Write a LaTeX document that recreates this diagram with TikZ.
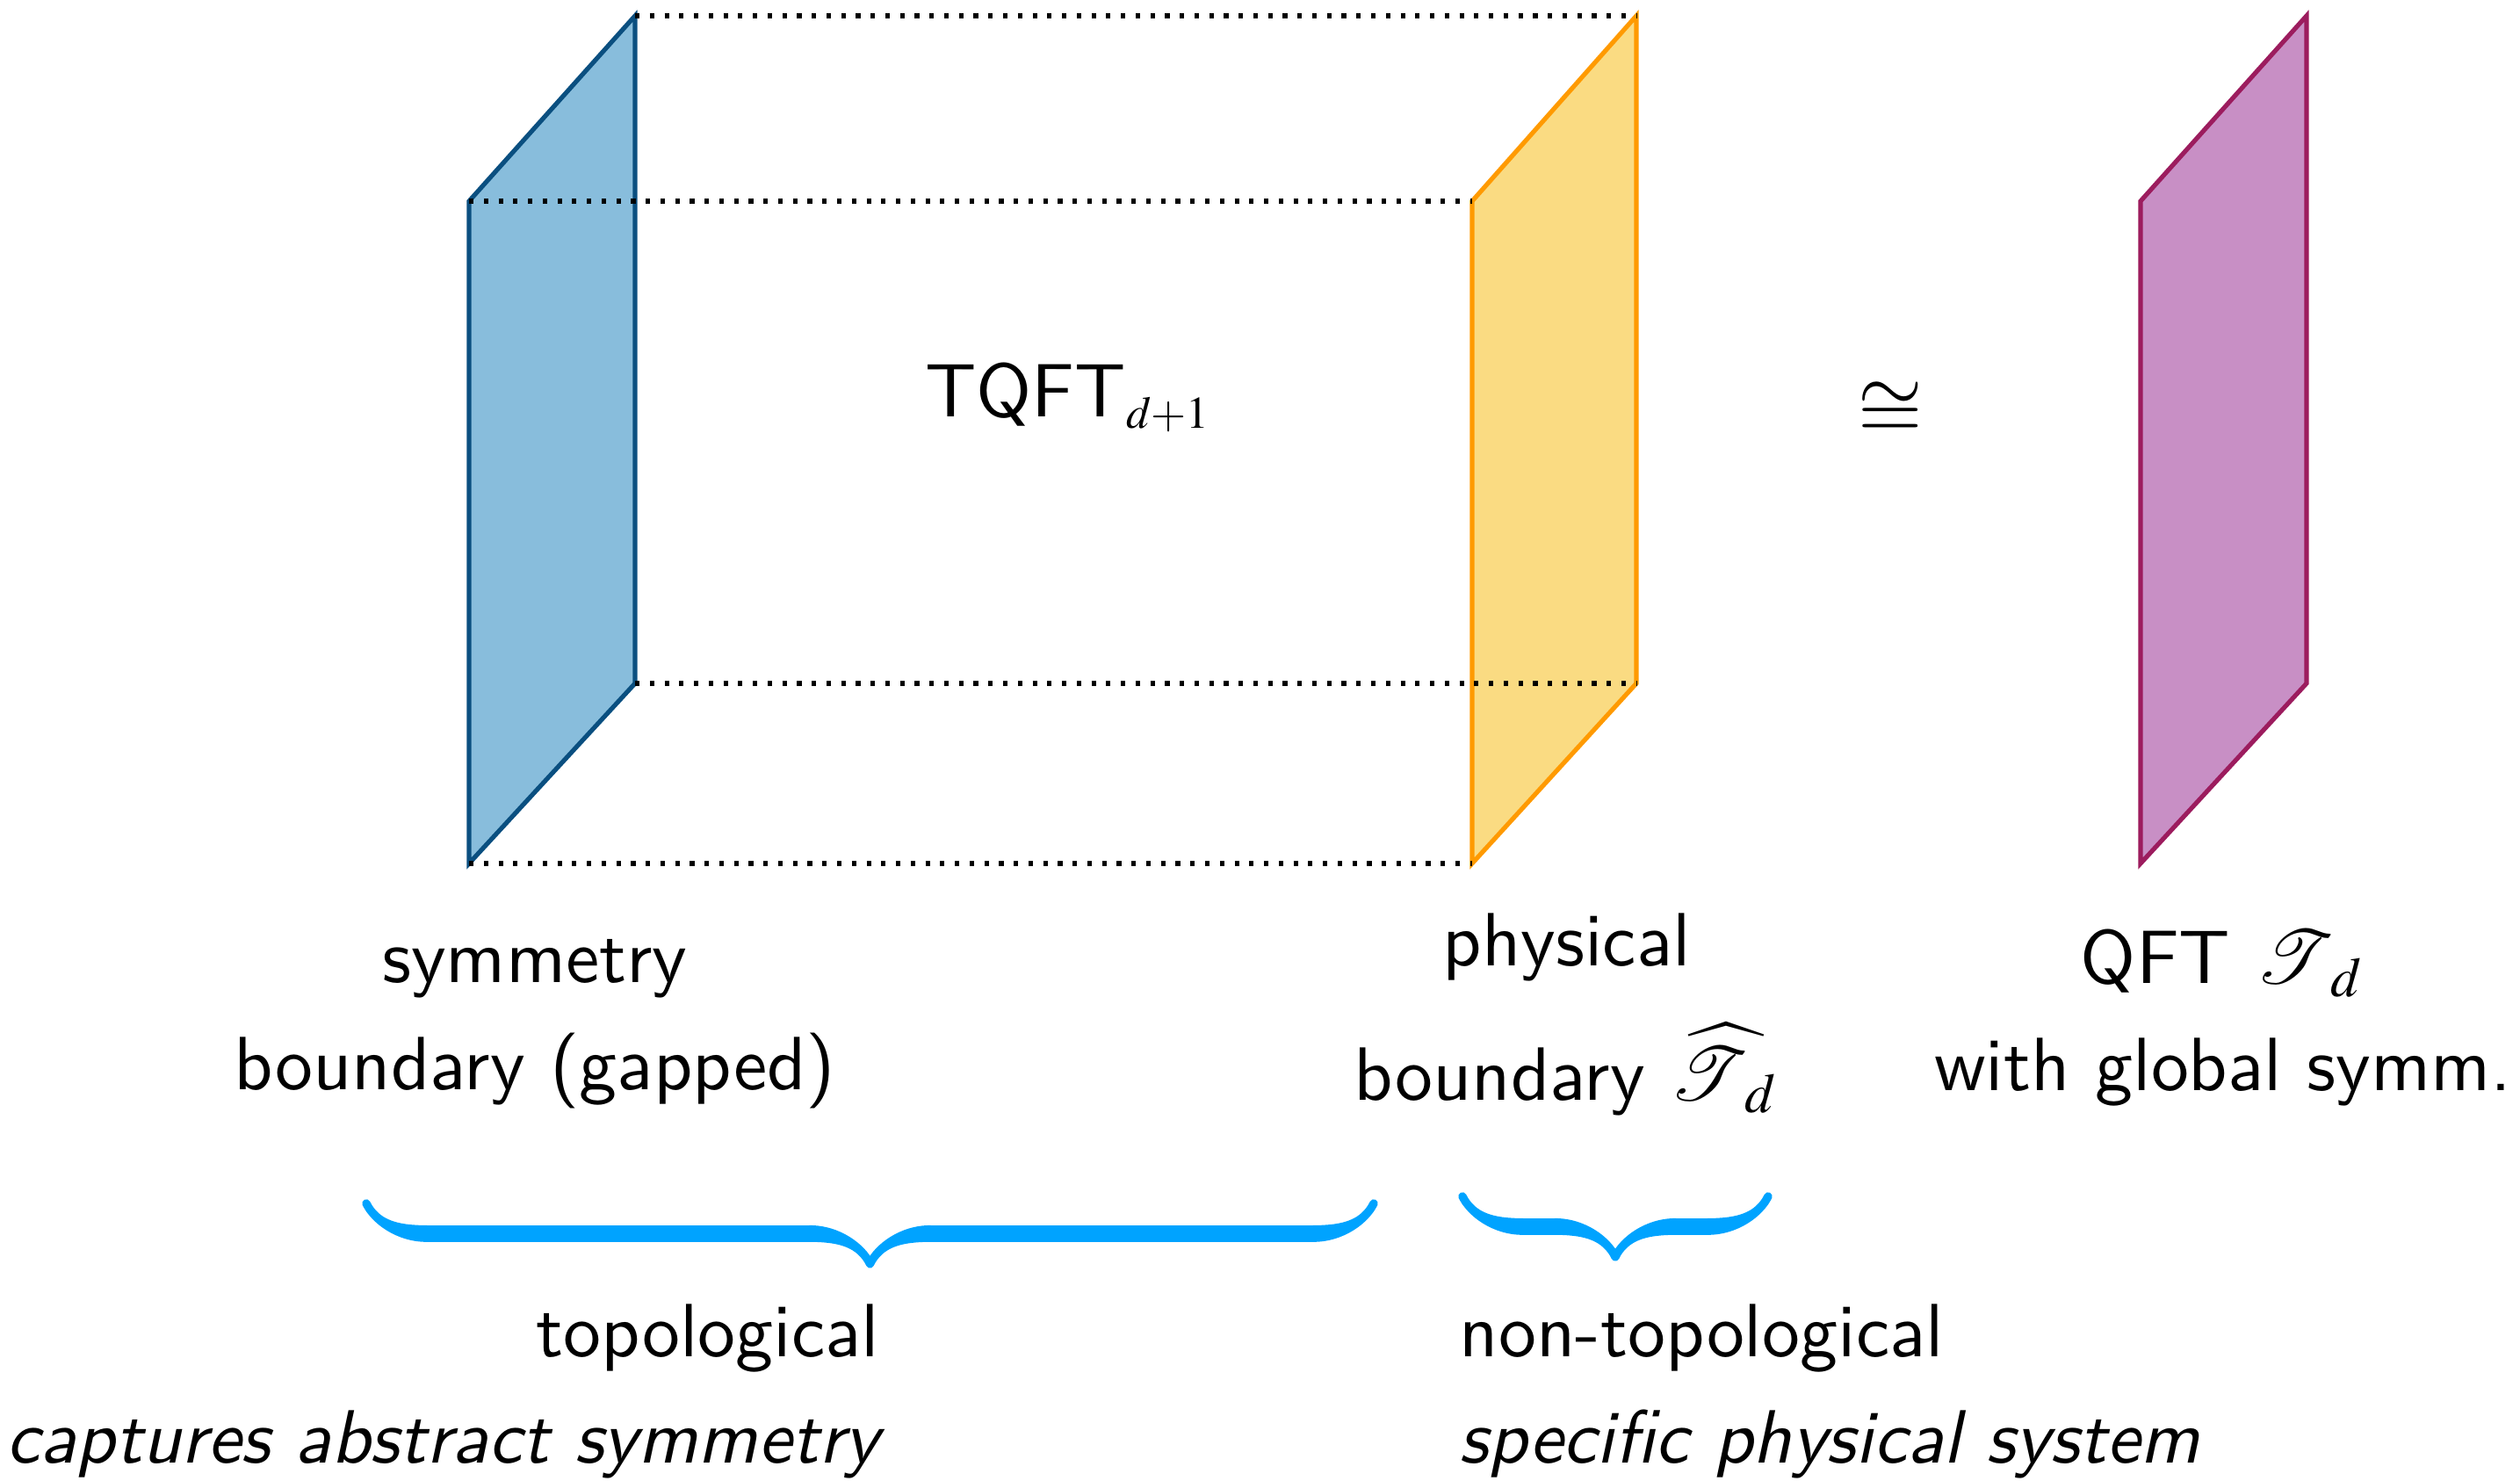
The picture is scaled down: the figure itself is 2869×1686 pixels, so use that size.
\documentclass[tikz,border=0pt]{standalone}
\usepackage{amsmath,amssymb}
\usepackage{mathptmx}
\usepackage{mathrsfs}
\usepackage{tikz}
\usetikzlibrary{decorations.pathreplacing,calligraphy}
\renewcommand{\familydefault}{\sfdefault}
\definecolor{symblue}{HTML}{88BDDC}
\definecolor{symbluedark}{HTML}{0A4F80}
\definecolor{physyellow}{HTML}{FADB82}
\definecolor{physorange}{HTML}{FF9A00}
\definecolor{qftpink}{HTML}{C88FC5}
\definecolor{qftplum}{HTML}{9C1C5E}
\definecolor{bracecyan}{HTML}{00A3FF}
\tikzset{
  bnd/.style={line width=0.6pt,line join=miter},
  symbnd/.style={bnd,draw=symbluedark,fill=symblue},
  physbnd/.style={bnd,draw=physorange,fill=physyellow},
  qftbnd/.style={bnd,draw=qftplum,fill=qftpink},
  rim/.style={line width=0.6pt,dash pattern=on 0.6pt off 1.35pt},
  lbl/.style={align=center,inner sep=0pt},
  brc/.style={decorate,decoration={calligraphic brace,amplitude=8pt},
              line width=2.2pt,pen colour={bracecyan}},
}

\begin{document}
\begin{tikzpicture}[x=0.00409cm,y=-0.00409cm]
\useasboundingbox (0,0) rectangle (2869,1686);
% slab corners: front bottom, front top, back top, back bottom
\coordinate (sfb) at (534,983);  \coordinate (sft) at (534,229);
\coordinate (sbt) at (723,18);   \coordinate (sbb) at (723,778);
\coordinate (pfb) at (1676,983); \coordinate (pft) at (1676,229);
\coordinate (pbt) at (1863,18);  \coordinate (pbb) at (1863,778);
\coordinate (qfb) at (2437,983); \coordinate (qft) at (2437,229);
\coordinate (qbt) at (2626,18);  \coordinate (qbb) at (2626,778);

\draw[symbnd] (sfb) -- (sft) -- (sbt) -- (sbb) -- cycle;
\draw[physbnd] (pfb) -- (pft) -- (pbt) -- (pbb) -- cycle;
\draw[qftbnd] (qfb) -- (qft) -- (qbt) -- (qbb) -- cycle;

% edges of the bulk
\draw[rim] (sbt) -- (pbt);
\draw[rim] (sft) -- (pft);
\draw[rim] (sbb) -- (pbb);
\draw[rim] (sfb) -- (pfb);

\node[lbl] (tqft) at (1217,452) {TQFT$_{\scriptscriptstyle d+1}$};
\node[lbl,font=\fontsize{11}{13}\selectfont] (iso) at (2152,467) {$\cong$};

\node[lbl] (symlbl) at (609,1166) {symmetry\\[2.2pt] boundary (gapped)};
\node[lbl] (physlbl) at (1784,1155) {physical\\[4.5pt] boundary $\widehat{\mathscr{T}}_{\kern2.5pt d}$};
\node[lbl] (qftlbl) at (2531,1159) {QFT $\mathscr{T}_{\kern2.5pt d}$\\[2.2pt] with global symm.};

% braces
\coordinate (tl) at (417,1370);  \coordinate (tr) at (1564,1370);
\coordinate (nl) at (1665,1362); \coordinate (nr) at (2013,1362);
\draw[brc] (tr) -- (tl);
\draw[brc] (nr) -- (nl);

\node[lbl,anchor=east,align=right] (toplbl) at (1003,1584)
  {topological\\[2pt] \itshape captures abstract symmetry};
\node[lbl,anchor=west,align=left] (ntoplbl) at (1660,1584)
  {non-topological\\[2pt] \itshape specific physical system};
\end{tikzpicture}
\end{document}
